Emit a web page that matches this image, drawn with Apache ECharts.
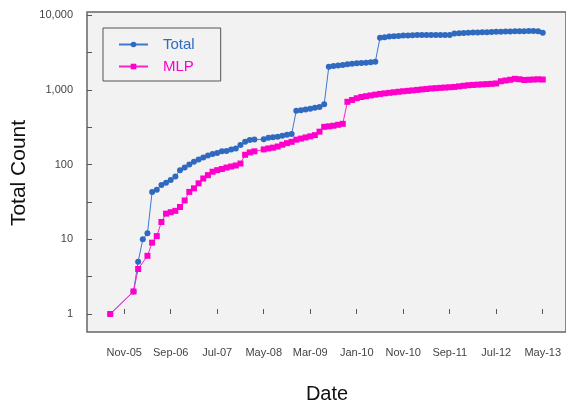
<!DOCTYPE html>
<html><head><meta charset="utf-8">
<script src="https://cdn.jsdelivr.net/npm/echarts@6/dist/echarts.min.js"></script>
<style>html,body{margin:0;padding:0;background:#fff}#c{width:566px;height:404px}</style>
</head><body><div id="c"></div>
<script>
// x: months counted from Jan-2005 (Jan-05 = 0)
const months = [7,
  12,13,14,15,16,17,18,19,20,21,22,23,24,25,26,27,28,29,30,31,32,33,34,35,36,37,38,
  40,41,42,43,44,45,46,47,48,49,50,51,52,53,54,55,56,57,58,59,60,61,62,63,64,65,66,67,68,69,70,
  71,72,73,74,75,76,77,78,79,80,81,82,83,84,85,86,87,88,89,90,91,92,93,94,95,96,97,98,99,100];
const totalCounts = [1,
  2,5,10,12,43,46,53,57,62,69,84,91,100,109,117,124,132,138,143,150,152,159,164,182,201,212,216,
  217,228,232,235,242,250,255,523,533,545,555,573,590,640,2030,2080,2110,2150,2200,2230,2260,2280,2300,2330,2360,4950,5050,5150,5200,5250,5300,
  5330,5360,5390,5410,5420,5420,5420,5400,5380,5380,5650,5700,5750,5780,5820,5850,5880,5900,5930,5950,5980,6000,6020,6050,6070,6080,6100,6100,6050,5800];
const mlpCounts = [1,
  2,4,null,6,9,11,17,22,23,24,27,33,43,48,56,65,72,80,84,87,91,94,97,103,135,145,150,
  159,164,168,174,184,193,201,215,222,230,238,247,275,319,324,330,340,350,690,730,770,800,820,840,860,880,895,910,925,940,955,
  967,980,995,1010,1025,1040,1050,1060,1070,1080,1090,1110,1130,1150,1160,1170,1180,1190,1200,1215,1300,1330,1360,1400,1380,1350,1360,1370,1380,1370];
const tickMonths = [10,20,30,40,50,60,70,80,90,100];
const tickLabels = ['Nov-05','Sep-06','Jul-07','May-08','Mar-09','Jan-10','Nov-10','Sep-11','Jul-12','May-13'];

const pairs = vals => months.map((m, i) => [m, vals[i]]);
const chart = echarts.init(document.getElementById('c'), null, {renderer: 'canvas'});
chart.setOption({
  animation: false,
  textStyle: {fontFamily: 'Liberation Sans, Arial, sans-serif'},
  grid: [
    {left: 87, right: -1, top: 15, bottom: 90},
    {left: 87, right: -1, top: 12, bottom: 72, show: true, backgroundColor: '#f2f2f2', borderColor: '#666', borderWidth: 1.5}
  ],
  xAxis: {
    type: 'value', gridIndex: 0, min: 2, max: 105, offset: 18,
    axisLine: {show: false},
    axisTick: {show: true, inside: true, length: 5, customValues: tickMonths, lineStyle: {color: '#555'}},
    axisLabel: {customValues: tickMonths, formatter: v => tickLabels[tickMonths.indexOf(v)] || '', margin: 15, fontSize: 11, color: '#444'},
    splitLine: {show: false}
  },
  yAxis: [
    {type: 'log', logBase: 10, gridIndex: 0, min: 1, max: 10000, position: 'left',
     axisLine: {show: false}, axisTick: {show: false},
     axisLabel: {formatter: v => Number(v).toLocaleString('en-US'), fontSize: 11, color: '#444', margin: 14},
     splitLine: {show: false}},
    {type: 'value', gridIndex: 0, min: 0, max: 4, interval: 0.5, position: 'left',
     axisLine: {show: false}, axisTick: {show: true, inside: true, length: 5, lineStyle: {color: '#555'}},
     axisLabel: {show: false}, splitLine: {show: false}}
  ],
  legend: {
    orient: 'vertical', left: 103, top: 28, padding: [9, 26, 7, 15],
    itemWidth: 29, itemHeight: 7, itemGap: 7,
    borderColor: '#555', borderWidth: 1, backgroundColor: '#f2f2f2',
    textStyle: {fontSize: 15, lineHeight: 14, padding: [0, 0, 0, 10]},
    data: [{name: 'Total', textStyle: {color: '#2f6ac0'}}, {name: 'MLP', textStyle: {color: '#ff00cc'}}]
  },
  series: [
    {name: 'Total', type: 'line', xAxisIndex: 0, yAxisIndex: 0, data: pairs(totalCounts), connectNulls: true,
     symbol: 'circle', symbolSize: 6, lineStyle: {width: 1, color: '#3b78d0'}, itemStyle: {color: '#2f6ac0'}, z: 2},
    {name: 'MLP', type: 'line', xAxisIndex: 0, yAxisIndex: 0, data: pairs(mlpCounts), connectNulls: true,
     symbol: 'rect', symbolSize: 6, lineStyle: {width: 1, color: '#ff20c8'}, itemStyle: {color: '#ff00cc'}, z: 3}
  ],
  graphic: [
    {type: 'text', x: 19.5, y: 173, rotation: Math.PI / 2,
     style: {text: 'Total Count', fontSize: 21, fill: '#111', align: 'center', verticalAlign: 'middle', fontFamily: 'Liberation Sans, Arial, sans-serif'}},
    {type: 'text', x: 327, y: 394,
     style: {text: 'Date', fontSize: 20, fill: '#111', align: 'center', verticalAlign: 'middle', fontFamily: 'Liberation Sans, Arial, sans-serif'}}
  ]
});
</script></body></html>
